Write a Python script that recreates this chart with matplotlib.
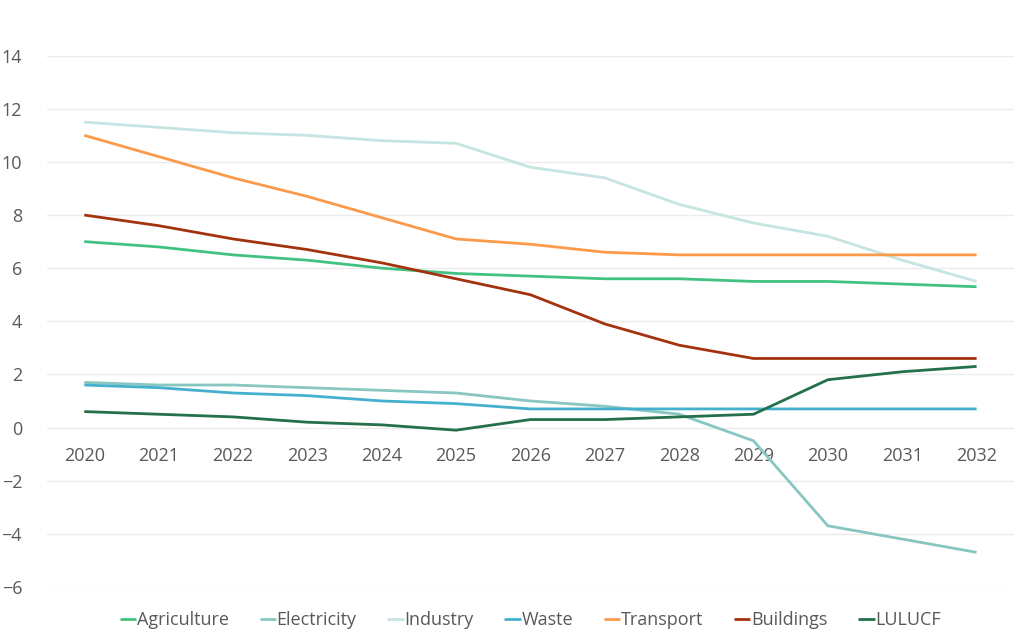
import matplotlib
matplotlib.use('Agg')
import matplotlib.pyplot as plt

plt.rcParams['font.family'] = ['Open Sans', 'DejaVu Sans']

years = ['2020', '2021', '2022', '2023', '2024', '2025', '2026',
         '2027', '2028', '2029', '2030', '2031', '2032']

agriculture = [7.0, 6.8, 6.5, 6.3, 6.0, 5.8, 5.7, 5.6, 5.6, 5.5, 5.5, 5.4, 5.3]
electricity = [1.7, 1.6, 1.6, 1.5, 1.4, 1.3, 1.0, 0.8, 0.5, -0.5, -3.7, -4.2, -4.7]
industry = [11.5, 11.3, 11.1, 11.0, 10.8, 10.7, 9.8, 9.4, 8.4, 7.7, 7.2, 6.3, 5.5]
waste = [1.6, 1.5, 1.3, 1.2, 1.0, 0.9, 0.7, 0.7, 0.7, 0.7, 0.7, 0.7, 0.7]
transport = [11.0, 10.2, 9.4, 8.7, 7.9, 7.1, 6.9, 6.6, 6.5, 6.5, 6.5, 6.5, 6.5]
buildings = [8.0, 7.6, 7.1, 6.7, 6.2, 5.6, 5.0, 3.9, 3.1, 2.6, 2.6, 2.6, 2.6]
lulucf = [0.6, 0.5, 0.4, 0.2, 0.1, -0.1, 0.3, 0.3, 0.4, 0.5, 1.8, 2.1, 2.3]

series = [
    ('Agriculture', agriculture, '#41c283'),
    ('Electricity', electricity, '#88c6c2'),
    ('Industry', industry, '#c5e4e2'),
    ('Waste', waste, '#45b0cd'),
    ('Transport', transport, '#fb9a4b'),
    ('Buildings', buildings, '#a3330f'),
    ('LULUCF', lulucf, '#24704a'),
]

fig = plt.figure(figsize=(10.24, 6.4), dpi=100)
ax = fig.add_axes([0.046, 0.083, 0.944, 0.83])

x = list(range(len(years)))
for name, vals, color in series:
    ax.plot(x, vals, color=color, lw=2, label=name, solid_capstyle='butt')

ax.set_xlim(-0.5, len(years) - 0.5)
ax.set_ylim(-6, 14)
ax.set_yticks(range(-6, 15, 2))
ax.set_yticklabels([str(v).replace('-', '\u2212') for v in range(-6, 15, 2)])
ax.set_xticks(x)
ax.set_xticklabels(years)

ax.grid(axis='y', color='#ebebeb', lw=1)
ax.set_axisbelow(True)
for s in ['top', 'right', 'left']:
    ax.spines[s].set_visible(False)
ax.spines['bottom'].set_position(('data', 0))
ax.spines['bottom'].set_visible(False)
ax.tick_params(axis='both', length=0, labelsize=13, labelcolor='#595959')
ax.tick_params(axis='y', pad=18)
ax.tick_params(axis='x', pad=14)

ax.legend(loc='upper center', bbox_to_anchor=(0.5, -0.015), ncol=7, frameon=False,
          fontsize=13, handlelength=0.9, handletextpad=0.05, columnspacing=1.7,
          labelcolor='#595959')

fig.savefig('out.png', dpi=100)
